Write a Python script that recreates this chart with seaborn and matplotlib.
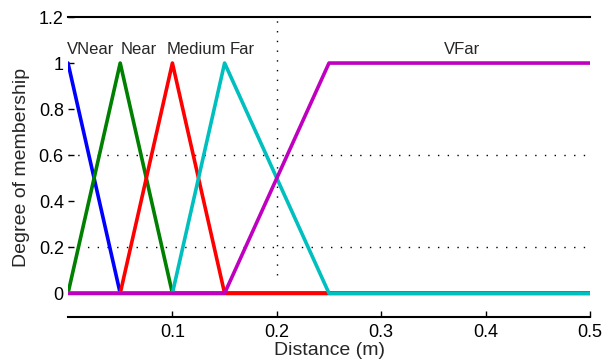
import matplotlib
matplotlib.use("Agg")
import matplotlib.pyplot as plt
import seaborn as sns
import pandas as pd

# ---- data ----
sets = ["VNear", "Near", "Medium", "Far", "VFar"]
vnear_x = [0.0, 0.05, 0.5]
vnear_y = [1.0, 0.0, 0.0]
near_x = [0.0, 0.05, 0.1, 0.5]
near_y = [0.0, 1.0, 0.0, 0.0]
medium_x = [0.0, 0.05, 0.1, 0.15, 0.5]
medium_y = [0.0, 0.0, 1.0, 0.0, 0.0]
far_x = [0.0, 0.1, 0.15, 0.25, 0.5]
far_y = [0.0, 0.0, 1.0, 0.0, 0.0]
vfar_x = [0.0, 0.15, 0.25, 0.5]
vfar_y = [0.0, 0.0, 1.0, 1.0]
label_x = [0.022, 0.068, 0.123, 0.167, 0.377]
label_y = [1.057, 1.057, 1.057, 1.057, 1.057]
x_ticks = [0.1, 0.2, 0.3, 0.4, 0.5]
y_ticks = [0, 0.2, 0.4, 0.6, 0.8, 1, 1.2]
y_tick_labels = ["0", "0.2", "0.4", "0.6", "0.8", "1", "1.2"]
grid_y = [0.2, 0.6]
grid_x = [0.2]

colors = {"VNear": "#0000ff", "Near": "#008000", "Medium": "#ff0000",
          "Far": "#00bfbf", "VFar": "#bf00bf"}

xs = [vnear_x, near_x, medium_x, far_x, vfar_x]
ys = [vnear_y, near_y, medium_y, far_y, vfar_y]
rows = []
for name, xv, yv in zip(sets, xs, ys):
    for i, (a, b) in enumerate(zip(xv, yv)):
        rows.append({"set": name, "x": a, "y": b, "order": i})
df = pd.DataFrame(rows)

sns.set_style("white")
plt.rcParams["font.family"] = ["Liberation Sans", "DejaVu Sans"]

fig = plt.figure(figsize=(6.07, 3.64), dpi=100)
ax = fig.add_axes([68/607, 47/364, (590-68)/607, (317-17)/364])

for gy in grid_y:
    ax.axhline(gy, color="black", lw=1.0, linestyle=(0, (1, 6)), zorder=0)
for gx in grid_x:
    ax.axvline(gx, color="black", lw=1.0, linestyle=(0, (1, 6)), ymin=0.14, zorder=0)

for name in sets:
    sub = df[df["set"] == name]
    sns.lineplot(data=sub, x="x", y="y", color=colors[name], lw=2.6,
                 sort=False, estimator=None, ax=ax, legend=False)

for name, lx, ly in zip(sets, label_x, label_y):
    ax.text(lx, ly, name, ha="center", va="center", fontsize=12)

ax.set_xlim(0, 0.5)
ax.set_ylim(-0.103, 1.2)
ax.set_xticks(x_ticks)
ax.set_xticklabels([f"{t:g}" for t in x_ticks])
ax.set_yticks(y_ticks)
ax.set_yticklabels(y_tick_labels)
ax.tick_params(axis="both", direction="in", length=4, width=1, labelsize=13,
               left=True, bottom=True, colors="black", pad=3)
ax.tick_params(axis="x", pad=5)
for s in ["left", "right"]:
    ax.spines[s].set_visible(False)
for s in ["top", "bottom"]:
    ax.spines[s].set_visible(True)
    ax.spines[s].set_color("black")
    ax.spines[s].set_linewidth(1.5)

ax.set_xlabel("Distance (m)", fontsize=14, labelpad=1)
ax.set_ylabel("Degree of membership", fontsize=14, labelpad=6)
ax.set_facecolor("white")

fig.savefig("out.png", dpi=100, facecolor="white")
